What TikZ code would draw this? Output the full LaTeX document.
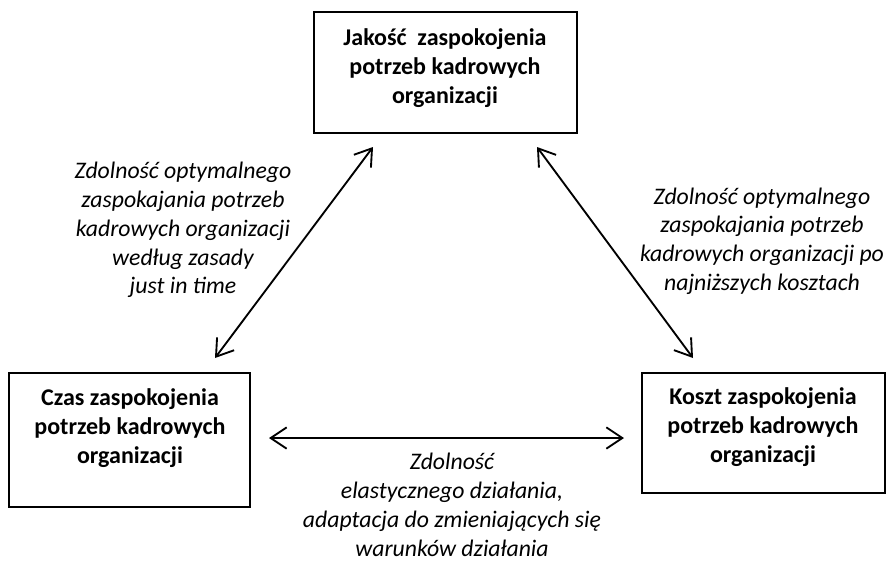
\documentclass[tikz,border=0pt]{standalone}
\usepackage{fontspec}
\setmainfont{Carlito}
\usetikzlibrary{arrows.meta}

\begin{document}
\begin{tikzpicture}[x=0.75pt, y=-0.75pt,
	frame/.style={draw, line width=1.2pt, inner sep=0pt},
	boxtext/.style={font=\bfseries\fontsize{18}{22}\selectfont, align=center, inner sep=0pt},
	remark/.style={font=\itshape\fontsize{17.8}{21.6}\selectfont, align=center, inner sep=0pt},
	link/.style={{Straight Barb[length=12pt,width=16pt]}-{Straight Barb[length=12pt,width=16pt]}, line width=1.4pt}]
	\useasboundingbox (0,0) rectangle (890,561);
	% quality
	\node[frame, minimum width=197.25pt, minimum height=90.75pt] (jakosc) at (445.5,72.5) {};
	\node[boxtext] (jakosctxt) at (445,68) {Jakość\ \ zaspokojenia\\potrzeb kadrowych\\organizacji};
	% time
	\node[frame, minimum width=180.75pt, minimum height=100.5pt] (czas) at (129.5,440) {};
	\node[boxtext] (czastxt) at (130,428) {Czas zaspokojenia\\potrzeb kadrowych\\organizacji};
	% cost
	\node[frame, minimum width=182.25pt, minimum height=90pt] (koszt) at (763.5,433) {};
	\node[boxtext] (koszttxt) at (763,427) {Koszt zaspokojenia\\potrzeb kadrowych\\organizacji};
	% arrow ends
	\coordinate (jl) at (373,147);
	\coordinate (jr) at (537,147);
	\coordinate (cu) at (215,358);
	\coordinate (cr) at (269,438);
	\coordinate (ku) at (693,358);
	\coordinate (kl) at (624,438);
	% arrows
	\draw[link] (jl) -- (cu);
	\draw[link] (jr) -- (ku);
	\draw[link] (cr) -- (kl);
	% remarks
	\node[remark] (jit) at (183,230) {Zdolność optymalnego\\zaspokajania potrzeb\\kadrowych organizacji\\według zasady\\just in time};
	\node[remark] (tanio) at (762,241) {Zdolność optymalnego\\zaspokajania potrzeb\\kadrowych organizacji po\\najniższych kosztach};
	\node[remark] (elast) at (452,505) {Zdolność\\elastycznego działania,\\adaptacja do zmieniających się\\warunków działania};
\end{tikzpicture}
\end{document}
